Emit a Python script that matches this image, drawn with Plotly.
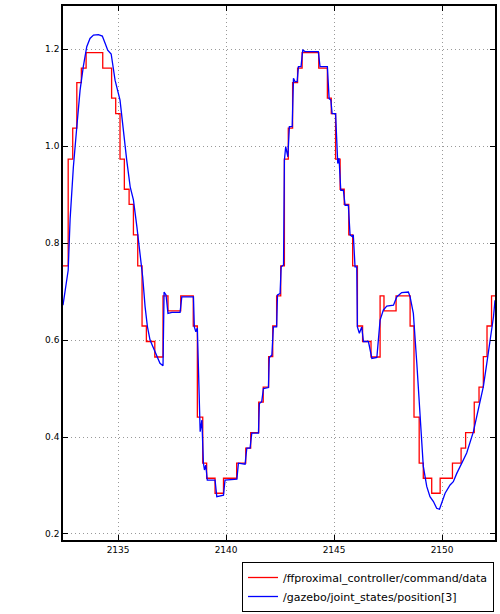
import plotly.graph_objects as go

red_t = [2132.45, 2132.69, 2132.90, 2133.09, 2133.30, 2133.52, 2134.29, 2134.70, 2134.89, 2135.09,
         2135.29, 2135.51, 2135.71, 2135.91, 2136.11, 2136.31, 2136.70, 2137.08, 2137.31, 2137.90,
         2138.48, 2138.67, 2138.92, 2139.10, 2139.49, 2139.88, 2140.49, 2140.91, 2141.14, 2141.51,
         2141.72, 2141.97, 2142.16, 2142.34, 2142.53, 2142.70, 2142.88, 2143.08, 2143.31, 2143.52,
         2144.29, 2144.69, 2144.87, 2145.07, 2145.28, 2145.47, 2145.68, 2145.86, 2146.08, 2146.32,
         2146.71, 2147.13, 2147.31, 2147.87, 2148.52, 2148.70, 2148.94, 2149.13, 2149.52, 2149.91,
         2150.48, 2150.88, 2151.09, 2151.49, 2151.71, 2151.91, 2152.08, 2152.29, 2152.45]
red_v = [0.753, 0.973, 1.037, 1.131, 1.161, 1.193, 1.161, 1.099, 1.067, 0.973,
         0.911, 0.880, 0.817, 0.753, 0.629, 0.597, 0.565, 0.691, 0.660, 0.691,
         0.629, 0.441, 0.346, 0.315, 0.284, 0.315, 0.346, 0.377, 0.409, 0.472,
         0.503, 0.566, 0.629, 0.691, 0.753, 0.973, 1.037, 1.131, 1.161, 1.193,
         1.161, 1.099, 1.067, 0.973, 0.911, 0.880, 0.817, 0.753, 0.629, 0.597,
         0.565, 0.691, 0.660, 0.691, 0.629, 0.441, 0.346, 0.315, 0.284, 0.315,
         0.346, 0.377, 0.409, 0.472, 0.503, 0.566, 0.629, 0.691, 0.691]

blue_t = [2132.45, 2132.69, 2132.78, 2132.93, 2133.09, 2133.24, 2133.39, 2133.55, 2133.70, 2133.86,
          2134.09, 2134.27, 2134.40, 2134.52, 2134.68, 2134.86, 2135.09, 2135.25, 2135.40, 2135.56,
          2135.71, 2135.87, 2136.02, 2136.14, 2136.25, 2136.36, 2136.48, 2136.63, 2136.79, 2136.94,
          2137.08, 2137.13, 2137.22, 2137.31, 2137.49, 2137.87, 2137.95, 2138.49, 2138.53, 2138.60,
          2138.67, 2138.76, 2138.80, 2138.88, 2138.95, 2139.00, 2139.06, 2139.13, 2139.49, 2139.57,
          2139.88, 2139.95, 2140.50, 2140.57, 2140.88, 2140.96, 2141.11, 2141.19, 2141.50, 2141.54,
          2141.65, 2141.73, 2141.96, 2142.00, 2142.12, 2142.19, 2142.34, 2142.38, 2142.50, 2142.55,
          2142.66, 2142.70, 2142.76, 2142.86, 2142.93, 2143.06, 2143.12, 2143.19, 2143.29, 2143.35,
          2143.47, 2143.55, 2143.66, 2144.27, 2144.35, 2144.69, 2144.77, 2144.85, 2144.91, 2145.07,
          2145.13, 2145.17, 2145.23, 2145.31, 2145.43, 2145.51, 2145.66, 2145.74, 2145.85, 2145.89,
          2145.97, 2146.05, 2146.08, 2146.17, 2146.28, 2146.36, 2146.59, 2146.75, 2146.98, 2147.13,
          2147.28, 2147.44, 2147.75, 2147.90, 2148.13, 2148.44, 2148.52, 2148.67, 2148.83, 2148.98,
          2149.13, 2149.29, 2149.44, 2149.60, 2149.75, 2149.88, 2149.99, 2150.14, 2150.37, 2150.52,
          2150.68, 2150.91, 2151.14, 2151.45, 2151.61, 2151.91, 2152.07, 2152.22, 2152.38, 2152.45]
blue_v = [0.672, 0.744, 0.850, 0.957, 1.040, 1.115, 1.164, 1.205, 1.222, 1.229,
          1.230, 1.227, 1.212, 1.198, 1.190, 1.136, 1.095, 1.026, 0.971, 0.916,
          0.889, 0.834, 0.779, 0.730, 0.669, 0.627, 0.600, 0.583, 0.566, 0.552,
          0.547, 0.699, 0.693, 0.655, 0.657, 0.657, 0.689, 0.689, 0.627, 0.617,
          0.625, 0.435, 0.411, 0.435, 0.346, 0.332, 0.342, 0.311, 0.311, 0.277,
          0.280, 0.311, 0.313, 0.346, 0.344, 0.377, 0.377, 0.408, 0.408, 0.469,
          0.473, 0.500, 0.502, 0.564, 0.569, 0.627, 0.627, 0.693, 0.696, 0.751,
          0.755, 0.971, 0.999, 0.978, 1.040, 1.040, 1.140, 1.133, 1.133, 1.164,
          1.164, 1.198, 1.195, 1.195, 1.164, 1.164, 1.098, 1.095, 1.067, 1.067,
          0.975, 0.964, 0.975, 0.909, 0.909, 0.878, 0.878, 0.817, 0.813, 0.817,
          0.751, 0.751, 0.627, 0.614, 0.627, 0.597, 0.597, 0.562, 0.564, 0.641,
          0.662, 0.670, 0.672, 0.689, 0.698, 0.699, 0.689, 0.655, 0.552, 0.435,
          0.340, 0.298, 0.277, 0.267, 0.253, 0.251, 0.267, 0.284, 0.301, 0.308,
          0.325, 0.346, 0.367, 0.411, 0.442, 0.504, 0.552, 0.600, 0.648, 0.682]

x_ticks = [2135, 2140, 2145, 2150]
y_ticks = [0.2, 0.4, 0.6, 0.8, 1.0, 1.2]

fig = go.Figure()
fig.add_trace(go.Scatter(x=red_t, y=red_v, mode="lines", line=dict(color="red", width=1.3, shape="hv"),
                         name="/ffproximal_controller/command/data"))
fig.add_trace(go.Scatter(x=blue_t, y=blue_v, mode="lines", line=dict(color="blue", width=1.3),
                         name="/gazebo/joint_states/position[3]"))

axis_common = dict(showline=True, linecolor="black", linewidth=1.5, mirror="ticks",
                   ticks="inside", ticklen=5, tickcolor="black", tickwidth=1,
                   showgrid=True, gridcolor="#999999", griddash="1px,3px", gridwidth=1,
                   zeroline=False, tickfont=dict(family="DejaVu Sans", size=9, color="black"))

fig.update_xaxes(range=[2132.45, 2152.45], tickvals=x_ticks, ticktext=[str(v) for v in x_ticks],
                 **axis_common)
fig.update_yaxes(range=[0.1876, 1.289], tickvals=y_ticks, ticktext=["%.1f" % v for v in y_ticks],
                 **axis_common)

fig.update_layout(
    width=500, height=614,
    margin=dict(l=63, r=5, t=6, b=74, autoexpand=False),
    paper_bgcolor="white", plot_bgcolor="white",
    showlegend=True,
    legend=dict(x=0.9977, y=-0.0412, xanchor="right", yanchor="top",
                bordercolor="black", borderwidth=1, bgcolor="white",
                font=dict(family="DejaVu Sans", size=11, color="black"),
                tracegroupgap=0, itemwidth=30),
)

fig.write_html("out.html", config={"displayModeBar": False},
               post_script="document.body.style.margin='0';document.body.style.padding='0';")
